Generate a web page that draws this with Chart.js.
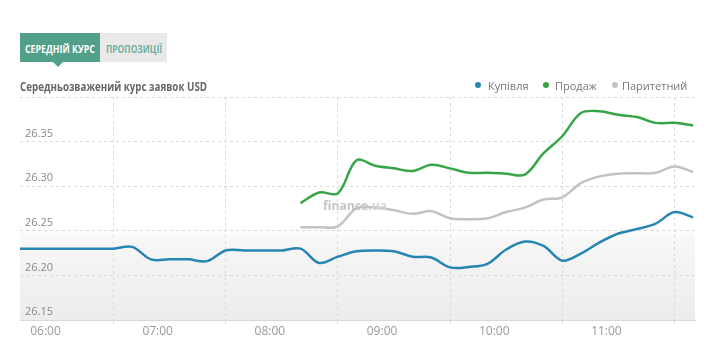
<!DOCTYPE html>
<html>
<head>
<meta charset="utf-8">
<script src="https://cdn.jsdelivr.net/npm/chart.js@4.4.1/dist/chart.umd.min.js"></script>
<style>
html,body{margin:0;padding:0;background:#fff;width:720px;height:355px;overflow:hidden;font-family:"Open Sans",Arial,sans-serif;}
#wrap{position:relative;width:720px;height:355px;}
#c{position:absolute;left:0;top:0;}
.abs{position:absolute;white-space:nowrap;line-height:1;transform-origin:0 50%;}
.tab1{position:absolute;left:20px;top:33px;width:80px;height:29px;background:#52a08a;}
.tab1ptr{position:absolute;left:53px;top:62px;width:0;height:0;border-left:5px solid transparent;border-right:5px solid transparent;border-top:5px solid #52a08a;}
.tab2{position:absolute;left:100px;top:33px;width:67px;height:29px;background:#e9e9e9;}
.tabtxt{font-weight:700;font-size:10.5px;}
.title{font-weight:700;font-size:11.5px;color:#666;}
.leg{font-size:11px;color:#777;}
.dot{position:absolute;width:6px;height:6px;border-radius:50%;}
.wm{font-weight:700;font-size:13px;color:#c4c4c4;}
</style>
</head>
<body>
<div id="wrap">
  <canvas id="c" width="720" height="355"></canvas>
  <div class="tab1"></div>
  <div class="tab1ptr"></div>
  <div class="tab2"></div>
  <span class="abs tabtxt" data-w="70" style="left:25px;top:44px;color:#fff;">СЕРЕДНІЙ КУРС</span>
  <span class="abs tabtxt" data-w="56" style="left:106px;top:44px;color:#72b09e;">ПРОПОЗИЦІЇ</span>
  <span class="abs title" data-w="187" style="left:20px;top:80.5px;">Середньозважений курс заявок USD</span>
  <div id="legend"></div>
  <span class="abs wm" data-w="64" style="left:323px;top:199px;">finance<span style="color:#d4d4d4">.ua</span></span>
</div>
<script>
// ---- data ----
const times = ['05:46','05:56','06:06','06:16','06:26','06:36','06:46','06:56','07:06','07:16','07:26','07:36','07:46','07:56','08:06','08:16','08:26','08:36','08:46','08:56','09:06','09:16','09:26','09:36','09:46','09:56','10:06','10:16','10:26','10:36','10:46','10:56','11:06','11:16','11:26','11:36','11:46'];
const buyRates = [26.230,26.230,26.230,26.230,26.230,26.230,26.232,26.218,26.218,26.218,26.216,26.228,26.228,26.228,26.228,26.230,26.214,26.221,26.227,26.228,26.227,26.221,26.220,26.209,26.2095,26.213,26.229,26.238,26.233,26.2165,26.2245,26.237,26.247,26.252,26.258,26.271,26.265];
const sellRates = [null,null,null,null,null,null,null,null,null,null,null,null,null,null,null,26.281,26.293,26.292,26.329,26.323,26.320,26.317,26.324,26.320,26.315,26.315,26.314,26.313,26.337,26.356,26.382,26.384,26.380,26.3775,26.371,26.371,26.368];
const parityRates = [null,null,null,null,null,null,null,null,null,null,null,null,null,null,null,26.254,26.254,26.255,26.2755,26.276,26.273,26.269,26.272,26.264,26.263,26.264,26.271,26.276,26.285,26.2875,26.3035,26.311,26.314,26.3145,26.315,26.322,26.316];
const seriesNames = ['Купівля','Продаж','Паритетний'];
const seriesColors = ['#2785b2','#37a447','#c2c2c2'];
const tickLabels = ['06:00','07:00','08:00','09:00','10:00','11:00'];
const gridTimes = ['06:36','07:36','08:36','09:36','10:36','11:36'];
const yTicks = [26.15,26.20,26.25,26.30,26.35,26.40];

function toMin(s){const p=s.split(':').map(Number);return (p[0]-6)*60+p[1];}
const xs = times.map(toMin);
const pts = arr => arr.map((v,i)=> v==null?null:{x:xs[i],y:v}).filter(p=>p);

// legend
const legX = [[475,488],[543,555],[612,622]];
const legEl = document.getElementById('legend');
seriesNames.forEach((n,i)=>{
  const d=document.createElement('div');d.className='dot';d.style.left=legX[i][0]+'px';d.style.top='82px';d.style.background=seriesColors[i];legEl.appendChild(d);
  const s=document.createElement('span');s.className='abs leg';s.style.left=legX[i][1]+'px';s.style.top='79.5px';s.textContent=n;legEl.appendChild(s);
});

// fit text widths
document.querySelectorAll('[data-w]').forEach(el=>{
  const w=el.getBoundingClientRect().width;const t=+el.dataset.w;
  el.style.transform='scaleX('+(t/w)+')';
});

const bgPlugin={id:'bg',beforeDraw(chart){
  const {ctx,chartArea:{left,top,right,bottom}}=chart;
  const g=ctx.createLinearGradient(0,top,0,bottom);
  g.addColorStop(0,'#ffffff');g.addColorStop(0.57,'#ffffff');g.addColorStop(0.66,'#f6f6f6');g.addColorStop(1,'#ececec');
  ctx.save();ctx.fillStyle=g;ctx.fillRect(left,top,right-left,bottom-top);ctx.restore();
}};

const ds = (name,arr,col)=>({label:name,data:pts(arr),borderColor:col,backgroundColor:col,borderWidth:2.5,pointRadius:0,tension:0.35,fill:false});

new Chart(document.getElementById('c'),{
  type:'line',
  data:{datasets:[
    ds(seriesNames[2],parityRates,seriesColors[2]),
    ds(seriesNames[1],sellRates,seriesColors[1]),
    ds(seriesNames[0],buyRates,seriesColors[0])
  ]},
  options:{
    responsive:false,animation:false,devicePixelRatio:1,
    layout:{padding:{left:20,right:25,top:97,bottom:0}},
    plugins:{legend:{display:false},tooltip:{enabled:false}},
    scales:{
      x:{type:'linear',min:-14,max:347,
        afterBuildTicks:s=>{s.ticks=gridTimes.map(t=>({value:toMin(t)}));},
        afterFit:s=>{s.height=35;s.paddingLeft=0;s.paddingRight=0;},
        grid:{color:'#dadada',tickLength:4,tickColor:'#dadada',tickBorderDash:[3,3]},
        border:{display:true,color:'#d8d8d8',dash:[3,3]},
        ticks:{autoSkip:false,maxRotation:0,padding:0,labelOffset:-68,color:'#999',font:{family:'Open Sans',size:12},callback:(v,i)=>tickLabels[i]}
      },
      y:{type:'linear',min:26.15,max:26.40,
        afterBuildTicks:s=>{s.ticks=yTicks.map(v=>({value:v}));},
        afterFit:s=>{s.width=0;s.paddingTop=0;s.paddingBottom=0;},
        grid:{color:'#dadada',drawTicks:false},
        border:{display:false,dash:[3,3]},
        ticks:{mirror:true,padding:5,labelOffset:-8,color:'#888',font:{family:'Open Sans',size:11},callback:v=>(v>26.399?'':v.toFixed(2))}
      }
    }
  },
  plugins:[bgPlugin]
});
</script>
</body>
</html>
